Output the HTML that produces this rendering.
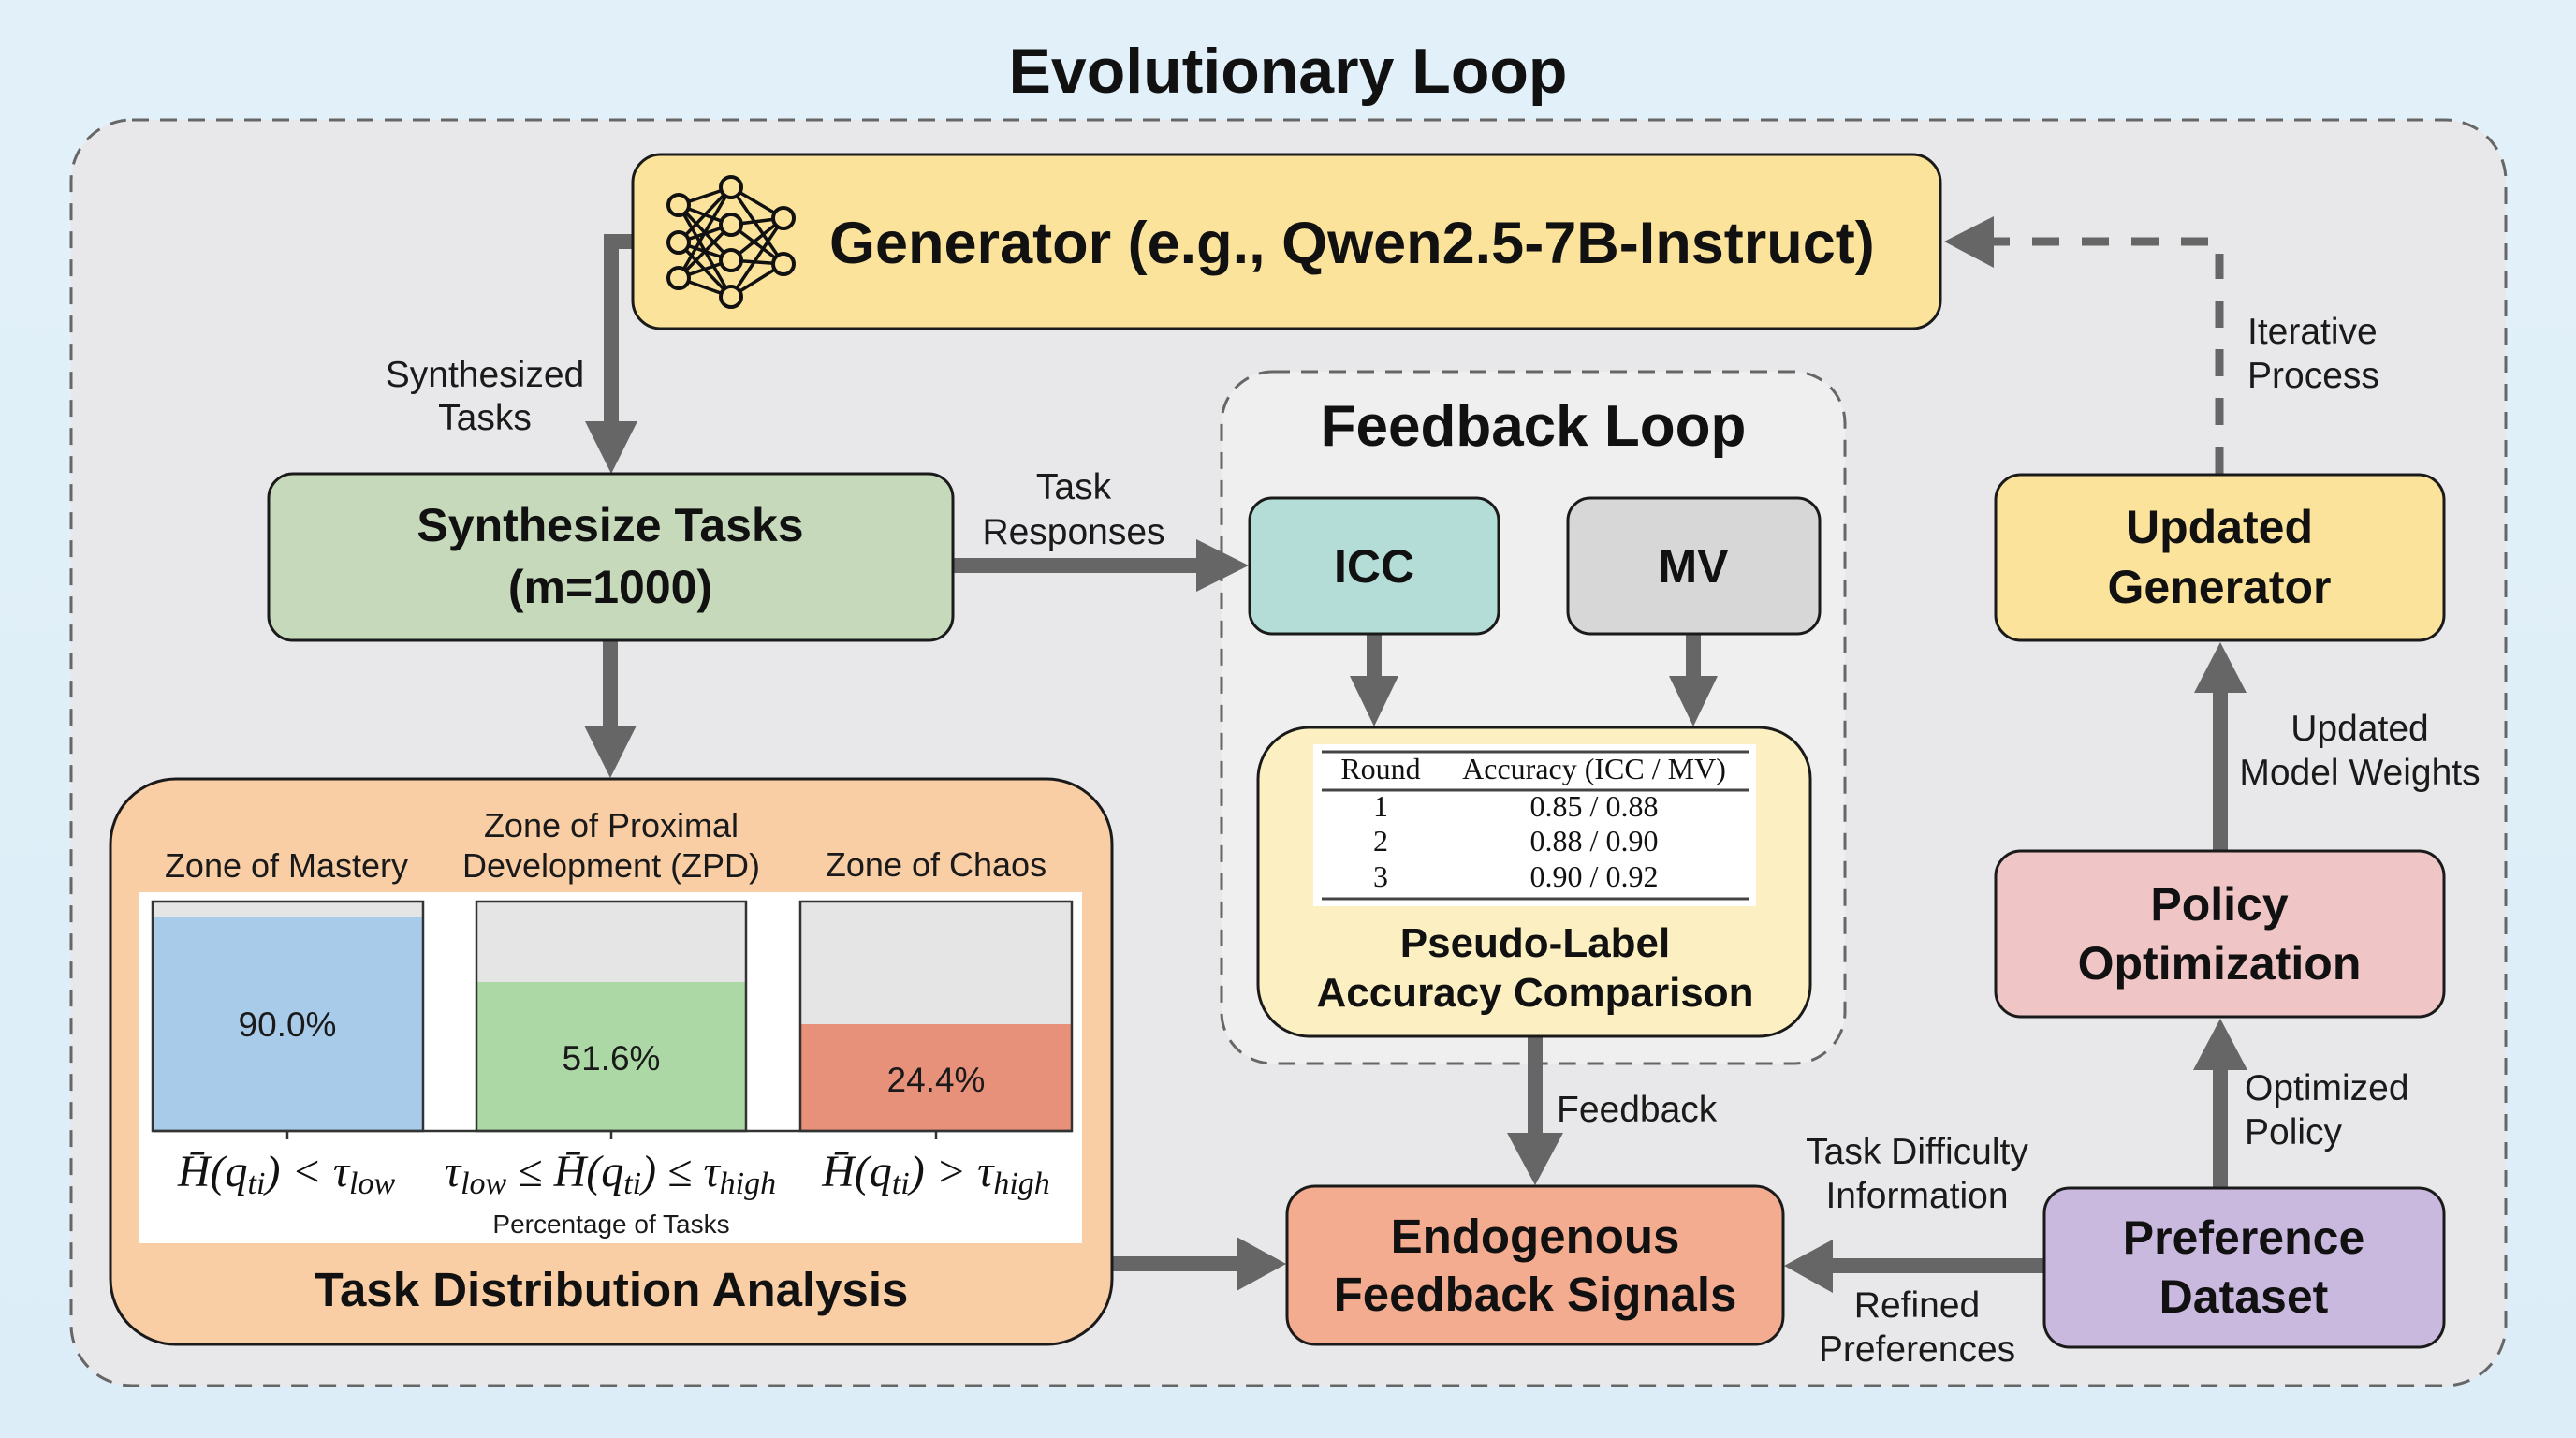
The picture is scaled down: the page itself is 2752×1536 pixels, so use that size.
<!DOCTYPE html>
<html><head><meta charset="utf-8"><style>
html,body{margin:0;padding:0;width:2752px;height:1536px;overflow:hidden;background:#dff0f9;}
svg{display:block;}
.b{font-family:"Liberation Sans",Arial,sans-serif;font-weight:bold;fill:#111;}
.r{font-family:"Liberation Sans",Arial,sans-serif;fill:#1a1a1a;}
.s{font-family:"Liberation Serif","Times New Roman",serif;fill:#111;}
.m{font-family:"Liberation Serif","Times New Roman",serif;font-style:italic;fill:#111;}
</style></head><body>
<svg width="2752" height="1536" viewBox="0 0 2752 1536" xmlns="http://www.w3.org/2000/svg">
<defs>
<linearGradient id="bg" x1="0" y1="0" x2="0" y2="1"><stop offset="0" stop-color="#e2f1f9"/><stop offset="1" stop-color="#dcedf8"/></linearGradient>
</defs>
<rect x="0" y="0" width="2752" height="1536" fill="url(#bg)"/>

<!-- Title -->
<text class="b" x="1376" y="99" font-size="68" text-anchor="middle">Evolutionary Loop</text>

<!-- Outer dashed box -->
<rect x="76" y="128" width="2601" height="1352" rx="65" fill="#e8e8ea" stroke="#666" stroke-width="3" stroke-dasharray="18 12"/>

<!-- Feedback loop dashed box -->
<rect x="1305" y="397" width="666" height="739" rx="55" fill="#efeff0" stroke="#666" stroke-width="3" stroke-dasharray="18 12"/>

<!-- Arrows -->
<g fill="#666" stroke="none">
  <polyline points="676,258 653,258 653,452" fill="none" stroke="#666" stroke-width="16" stroke-linejoin="miter"/>
  <polygon points="625,450 681,450 653,506"/>
  <rect x="1018" y="596" width="262" height="16"/>
  <polygon points="1278,576 1278,632 1334,604"/>
  <rect x="644" y="684" width="16" height="93"/>
  <polygon points="624,775 680,775 652,831"/>
  <rect x="1460" y="677" width="16" height="47"/>
  <polygon points="1442,722 1494,722 1468,776"/>
  <rect x="1801" y="677" width="16" height="47"/>
  <polygon points="1783,722 1835,722 1809,776"/>
  <rect x="1632" y="1107" width="16" height="105"/>
  <polygon points="1610,1210 1670,1210 1640,1266"/>
  <rect x="1188" y="1342" width="135" height="16"/>
  <polygon points="1321,1321 1321,1379 1374,1350"/>
  <rect x="1956" y="1344" width="228" height="16"/>
  <polygon points="1958,1324 1958,1381 1906,1352"/>
  <rect x="2364" y="1141" width="16" height="128"/>
  <polygon points="2343,1143 2401,1143 2372,1088"/>
  <rect x="2364" y="738" width="16" height="171"/>
  <polygon points="2344,740 2400,740 2372,686"/>
  <line x1="2371" y1="506" x2="2371" y2="271" stroke="#666" stroke-width="9" stroke-dasharray="29 23"/>
  <line x1="2359" y1="258" x2="2128" y2="258" stroke="#666" stroke-width="9" stroke-dasharray="29 24"/>
  <polygon points="2130,231 2130,286 2077,258"/>
</g>

<!-- Generator box -->
<rect x="676" y="165" width="1397" height="186" rx="30" fill="#fbe39b" stroke="#1a1a1a" stroke-width="3"/>
<g stroke="#111" stroke-width="3.5" fill="none">
  <g>
    <line x1="725" y1="219" x2="781" y2="200"/><line x1="725" y1="219" x2="781" y2="240"/><line x1="725" y1="219" x2="781" y2="278"/><line x1="725" y1="219" x2="781" y2="317"/>
    <line x1="725" y1="259" x2="781" y2="200"/><line x1="725" y1="259" x2="781" y2="240"/><line x1="725" y1="259" x2="781" y2="278"/><line x1="725" y1="259" x2="781" y2="317"/>
    <line x1="725" y1="297" x2="781" y2="200"/><line x1="725" y1="297" x2="781" y2="240"/><line x1="725" y1="297" x2="781" y2="278"/><line x1="725" y1="297" x2="781" y2="317"/>
    <line x1="781" y1="200" x2="837" y2="233"/><line x1="781" y1="200" x2="837" y2="282"/>
    <line x1="781" y1="240" x2="837" y2="233"/><line x1="781" y1="240" x2="837" y2="282"/>
    <line x1="781" y1="278" x2="837" y2="233"/><line x1="781" y1="278" x2="837" y2="282"/>
    <line x1="781" y1="317" x2="837" y2="233"/><line x1="781" y1="317" x2="837" y2="282"/>
  </g>
  <g fill="#fbe39b" stroke-width="4">
    <circle cx="725" cy="219" r="11"/><circle cx="725" cy="259" r="11"/><circle cx="725" cy="297" r="11"/>
    <circle cx="781" cy="200" r="11"/><circle cx="781" cy="240" r="11"/><circle cx="781" cy="278" r="11"/><circle cx="781" cy="317" r="11"/>
    <circle cx="837" cy="233" r="11"/><circle cx="837" cy="282" r="11"/>
  </g>
</g>
<text class="b" x="886" y="281" font-size="63">Generator (e.g., Qwen2.5-7B-Instruct)</text>

<!-- Synthesize Tasks -->
<rect x="287" y="506" width="731" height="178" rx="26" fill="#c6d9ba" stroke="#1a1a1a" stroke-width="3"/>
<text class="b" x="652" y="578" font-size="50" text-anchor="middle">Synthesize Tasks</text>
<text class="b" x="652" y="644" font-size="50" text-anchor="middle">(m=1000)</text>

<!-- Feedback Loop title -->
<text class="b" x="1638" y="476" font-size="62" text-anchor="middle">Feedback Loop</text>

<!-- ICC / MV -->
<rect x="1335" y="532" width="266" height="145" rx="24" fill="#b3ddd6" stroke="#1a1a1a" stroke-width="3"/>
<text class="b" x="1468" y="622" font-size="50" text-anchor="middle">ICC</text>
<rect x="1675" y="532" width="269" height="145" rx="24" fill="#d7d7d8" stroke="#1a1a1a" stroke-width="3"/>
<text class="b" x="1809" y="622" font-size="50" text-anchor="middle">MV</text>

<!-- Pseudo-label box -->
<rect x="1344" y="777" width="590" height="330" rx="55" fill="#fcf0c2" stroke="#1a1a1a" stroke-width="3"/>
<rect x="1403" y="795" width="473" height="173" fill="#ffffff"/>
<g stroke="#444" stroke-width="3">
  <line x1="1412" y1="803" x2="1868" y2="803"/>
  <line x1="1412" y1="844" x2="1868" y2="844"/>
  <line x1="1412" y1="960" x2="1868" y2="960"/>
</g>
<g class="s" font-size="32" text-anchor="middle">
  <text x="1475" y="832">Round</text>
  <text x="1703" y="832">Accuracy (ICC / MV)</text>
  <text x="1475" y="872">1</text><text x="1703" y="872">0.85 / 0.88</text>
  <text x="1475" y="909">2</text><text x="1703" y="909">0.88 / 0.90</text>
  <text x="1475" y="947">3</text><text x="1703" y="947">0.90 / 0.92</text>
</g>
<text class="b" x="1640" y="1022" font-size="44" text-anchor="middle">Pseudo-Label</text>
<text class="b" x="1640" y="1075" font-size="44" text-anchor="middle">Accuracy Comparison</text>

<!-- Task Distribution Analysis -->
<rect x="118" y="832" width="1070" height="604" rx="70" fill="#f9cea5" stroke="#1a1a1a" stroke-width="3"/>
<g class="r" font-size="36" text-anchor="middle">
  <text x="306" y="937">Zone of Mastery</text>
  <text x="653" y="894">Zone of Proximal</text>
  <text x="653" y="937">Development (ZPD)</text>
  <text x="1000" y="936">Zone of Chaos</text>
</g>
<rect x="149" y="953" width="1007" height="375" fill="#ffffff"/>
<rect x="163" y="963" width="289" height="245" fill="#e5e5e6"/>
<rect x="163" y="980" width="289" height="228" fill="#a8cbea"/>
<rect x="163" y="963" width="289" height="245" fill="none" stroke="#333" stroke-width="2.5"/>
<rect x="509" y="963" width="288" height="245" fill="#e5e5e6"/>
<rect x="509" y="1049" width="288" height="159" fill="#acd8a5"/>
<rect x="509" y="963" width="288" height="245" fill="none" stroke="#333" stroke-width="2.5"/>
<rect x="855" y="963" width="290" height="245" fill="#e5e5e6"/>
<rect x="855" y="1094" width="290" height="114" fill="#e8917a"/>
<rect x="855" y="963" width="290" height="245" fill="none" stroke="#333" stroke-width="2.5"/>
<g stroke="#333" stroke-width="2.5">
  <line x1="163" y1="1208" x2="1145" y2="1208"/>
  <line x1="307" y1="1208" x2="307" y2="1217"/>
  <line x1="653" y1="1208" x2="653" y2="1217"/>
  <line x1="1000" y1="1208" x2="1000" y2="1217"/>
</g>
<g class="r" font-size="37" text-anchor="middle">
  <text x="307" y="1107">90.0%</text>
  <text x="653" y="1143">51.6%</text>
  <text x="1000" y="1166">24.4%</text>
</g>
<g class="m" font-size="48" text-anchor="middle">
  <text x="306" y="1267">H&#772;(q<tspan font-size="34" dy="8">ti</tspan><tspan dy="-8">) &lt; τ</tspan><tspan font-size="34" dy="8">low</tspan></text>
  <text x="652" y="1267">τ<tspan font-size="34" dy="8">low</tspan><tspan dy="-8"> ≤ H&#772;(q</tspan><tspan font-size="34" dy="8">ti</tspan><tspan dy="-8">) ≤ τ</tspan><tspan font-size="34" dy="8">high</tspan></text>
  <text x="1000" y="1267">H&#772;(q<tspan font-size="34" dy="8">ti</tspan><tspan dy="-8">) &gt; τ</tspan><tspan font-size="34" dy="8">high</tspan></text>
</g>
<text class="r" x="653" y="1317" font-size="28" text-anchor="middle">Percentage of Tasks</text>
<text class="b" x="653" y="1395" font-size="51" text-anchor="middle">Task Distribution Analysis</text>

<!-- Endogenous -->
<rect x="1375" y="1267" width="530" height="169" rx="30" fill="#f4ac91" stroke="#1a1a1a" stroke-width="3"/>
<text class="b" x="1640" y="1338" font-size="51" text-anchor="middle">Endogenous</text>
<text class="b" x="1640" y="1400" font-size="51" text-anchor="middle">Feedback Signals</text>

<!-- Updated Generator -->
<rect x="2132" y="507" width="479" height="177" rx="27" fill="#fbe39b" stroke="#1a1a1a" stroke-width="3"/>
<text class="b" x="2371" y="580" font-size="50" text-anchor="middle">Updated</text>
<text class="b" x="2371" y="644" font-size="50" text-anchor="middle">Generator</text>

<!-- Policy Optimization -->
<rect x="2132" y="909" width="479" height="177" rx="27" fill="#efc5c6" stroke="#1a1a1a" stroke-width="3"/>
<text class="b" x="2371" y="983" font-size="50" text-anchor="middle">Policy</text>
<text class="b" x="2371" y="1046" font-size="50" text-anchor="middle">Optimization</text>

<!-- Preference Dataset -->
<rect x="2184" y="1269" width="427" height="170" rx="27" fill="#c9b9df" stroke="#1a1a1a" stroke-width="3"/>
<text class="b" x="2397" y="1339" font-size="50" text-anchor="middle">Preference</text>
<text class="b" x="2397" y="1402" font-size="50" text-anchor="middle">Dataset</text>

<!-- Connector labels -->
<g class="r" font-size="39">
  <text x="518" y="413" text-anchor="middle">Synthesized</text>
  <text x="518" y="459" text-anchor="middle">Tasks</text>
  <text x="1147" y="533" text-anchor="middle">Task</text>
  <text x="1147" y="581" text-anchor="middle">Responses</text>
  <text x="2401" y="367">Iterative</text>
  <text x="2401" y="414">Process</text>
  <text x="2521" y="791" text-anchor="middle">Updated</text>
  <text x="2521" y="838" text-anchor="middle">Model Weights</text>
  <text x="2398" y="1175">Optimized</text>
  <text x="2398" y="1222">Policy</text>
  <text x="2048" y="1243" text-anchor="middle">Task Difficulty</text>
  <text x="2048" y="1290" text-anchor="middle">Information</text>
  <text x="2048" y="1407" text-anchor="middle">Refined</text>
  <text x="2048" y="1454" text-anchor="middle">Preferences</text>
  <text x="1663" y="1198">Feedback</text>
</g>
</svg>
</body></html>
